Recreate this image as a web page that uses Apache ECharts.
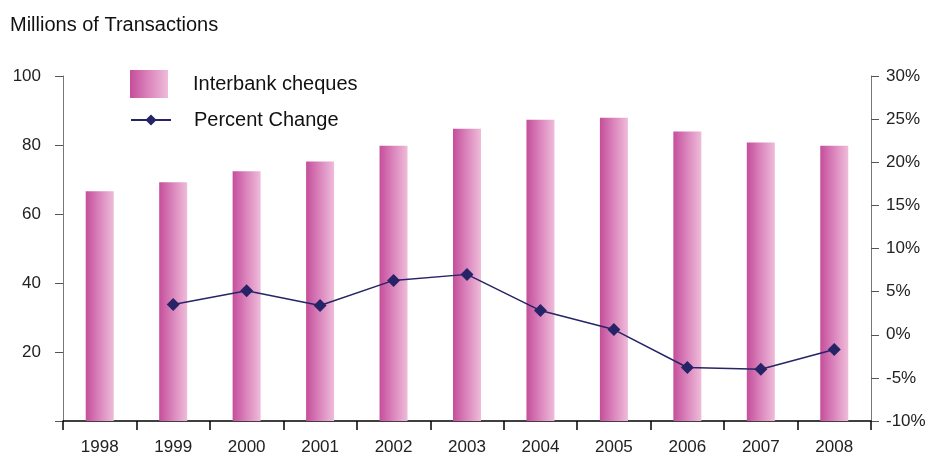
<!DOCTYPE html>
<html>
<head>
<meta charset="utf-8">
<script src="https://cdn.jsdelivr.net/npm/echarts@6/dist/echarts.min.js"></script>
<style>
  html, body { margin: 0; padding: 0; background: #fff; }
  #chart { width: 927px; height: 457px; }
</style>
</head>
<body>
<div id="chart"></div>
<script>
// Interbank cheque volumes and their year-on-year change
const years = ['1998', '1999', '2000', '2001', '2002', '2003', '2004', '2005', '2006', '2007', '2008'];
const cheques = [66.6, 69.2, 72.4, 75.2, 79.8, 84.7, 87.3, 87.9, 83.9, 80.7, 79.8];
const pctChange = [null, 3.5, 5.1, 3.4, 6.3, 7.0, 2.8, 0.6, -3.8, -4.0, -1.7];
const leftTicks = [0, 20, 40, 60, 80, 100];
const rightTicks = [-10, -5, 0, 5, 10, 15, 20, 25, 30];

const FONT = 'Liberation Sans';
const barFill = new echarts.graphic.LinearGradient(0, 0, 1, 0, [
  { offset: 0, color: '#c54e9b' },
  { offset: 0.5, color: '#db86bd' },
  { offset: 1, color: '#eebcd9' }
]);

const chart = echarts.init(document.getElementById('chart'), null, { renderer: 'canvas' });
chart.setOption({
  animation: false,
  backgroundColor: '#ffffff',
  textStyle: { fontFamily: FONT },
  title: {
    text: 'Millions of Transactions',
    left: 10, top: 15, padding: 0,
    textStyle: { fontFamily: FONT, fontSize: 20, fontWeight: 'normal', color: '#111' }
  },
  legend: [
    {
      data: ['Interbank cheques'],
      icon: 'rect',
      left: 130, top: 70, padding: 0,
      itemWidth: 38, itemHeight: 28,
      textStyle: { fontFamily: FONT, fontSize: 20, color: '#111', padding: [0, 0, 0, 20] }
    },
    {
      data: ['Percent Change'],
      left: 130, top: 110, padding: 0,
      itemWidth: 40, itemHeight: 14,
      textStyle: { fontFamily: FONT, fontSize: 20, color: '#111', padding: [0, 0, 0, 18] }
    }
  ],
  grid: { left: 63, right: 56, top: 76, bottom: 36, containLabel: false, outerBoundsMode: 'none' },
  xAxis: {
    type: 'category',
    data: years,
    boundaryGap: true,
    axisLine: { lineStyle: { color: '#000', width: 1.5 } },
    axisTick: { show: true, length: 9, lineStyle: { color: '#000', width: 1.5 } },
    axisLabel: { fontFamily: FONT, fontSize: 17, color: '#222', margin: 18 }
  },
  yAxis: [
    {
      type: 'value',
      min: leftTicks[0], max: leftTicks[leftTicks.length - 1], interval: 20,
      splitLine: { show: false },
      axisLine: { show: true, lineStyle: { color: '#777', width: 1 } },
      axisTick: { show: true, length: 8, lineStyle: { color: '#555' } },
      axisLabel: {
        fontFamily: FONT, fontSize: 17, color: '#222', margin: 22,
        formatter: v => (v === 0 ? '' : String(v))
      }
    },
    {
      type: 'value',
      min: rightTicks[0], max: rightTicks[rightTicks.length - 1], interval: 5,
      splitLine: { show: false },
      axisLine: { show: true, lineStyle: { color: '#777', width: 1 } },
      axisTick: { show: true, length: 8, lineStyle: { color: '#555' } },
      axisLabel: {
        fontFamily: FONT, fontSize: 17, color: '#222', margin: 15,
        formatter: v => v + '%'
      }
    }
  ],
  series: [
    {
      name: 'Interbank cheques',
      type: 'bar',
      yAxisIndex: 0,
      data: cheques,
      barWidth: 28,
      itemStyle: { color: barFill },
      z: 2
    },
    {
      name: 'Percent Change',
      type: 'line',
      yAxisIndex: 1,
      data: pctChange,
      connectNulls: false,
      symbol: 'diamond',
      symbolSize: 13,
      lineStyle: { color: '#262466', width: 1.5 },
      itemStyle: { color: '#262466' },
      z: 5
    }
  ]
});
</script>
</body>
</html>
